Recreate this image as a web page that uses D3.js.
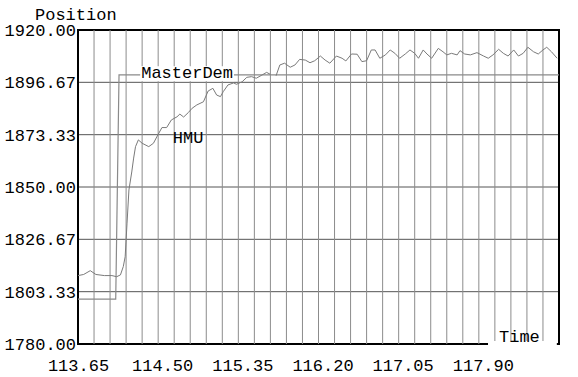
<!DOCTYPE html>
<html>
<head>
<meta charset="utf-8">
<script src="https://cdn.jsdelivr.net/npm/d3@7"></script>
<style>
  body { margin: 0; background: #fff; }
  text { font-family: "Liberation Mono", monospace; font-size: 17px; fill: #000; }
</style>
</head>
<body>
<div id="chart-area"></div>
<script>
const timeTicks = [113.65, 114.50, 115.35, 116.20, 117.05, 117.90];
const posTicks = [1780, 1803.33, 1826.67, 1850, 1873.33, 1896.67, 1920];

// MasterDem (demand step)
const demTime = [113.65, 114.05, 114.085, 118.75];
const demPos = [1800, 1800, 1900, 1900];

// HMU response, null = gap in the trace
const hmuTime = [
  113.65, 113.71, 113.78, 113.84, 113.93, 114.01, 114.06, 114.10, 114.13, 114.15,
  114.17, 114.19, 114.22, 114.24, 114.26, 114.29, 114.33, 114.40, 114.45, 114.49,
  114.54, 114.59, 114.64, 114.70, 114.73, 114.77, 114.82, 114.86, 114.91, 114.98,
  115.03, 115.08, 115.12, 115.16, 115.19, 115.24, 115.30, 115.33, 115.39, 115.44,
  115.49, 115.54, 115.60, 115.65, 115.69, 115.72, 115.75, 115.79, 115.84, 115.90,
  115.95, 116.00, 116.06, 116.11, 116.16, 116.22, 116.27, 116.32, 116.39, 116.45,
  116.49, 116.55, 116.61, 116.66, 116.71, 116.76, 116.80, 116.85, 116.91, 116.96,
  117.01, 117.06, 117.12, 117.17, 117.22, 117.26, 117.31, 117.35, 117.40, 117.47,
  117.52, 117.56, 117.61, 117.67, 117.70, 117.75, 117.81, 117.88, 117.95, 118.00,
  118.05, 118.11, 118.16, 118.21, 118.27, 118.32, 118.37, 118.42, 118.48, 118.53,
  118.58, 118.62, 118.67, 118.73
];
const hmuPos = [
  1810.5, 1811.0, 1812.7, 1811.0, 1810.5, 1810.5, 1810.0, 1810.8, 1814.5, 1818.9,
  1833.9, 1848.7, 1856.7, 1862.9, 1868.0, 1871.0, 1869.5, 1868.0, 1869.5, 1872.7,
  1876.5, 1876.5, 1879.9, 1881.3, 1882.5, 1881.2, 1883.2, 1885.1, 1886.6, 1888.0,
  1892.8, 1894.0, 1891.0, 1890.3, 1892.5, 1895.5, 1896.4, 1895.8, 1896.9, 1898.9,
  1899.2, 1898.5, 1899.9, 1901.1, 1900.2, null, 1899.6, 1904.4, 1905.2, 1903.4,
  1904.4, 1906.9, 1906.6, 1905.4, 1906.3, 1908.4, 1906.6, 1905.2, 1908.4, 1907.4,
  1906.2, 1909.3, 1909.2, 1905.9, 1906.3, 1911.1, 1911.1, 1907.4, 1908.9, 1911.1,
  1909.6, 1907.4, 1909.3, 1911.1, 1909.6, 1907.4, 1911.1, 1909.3, 1907.4, 1911.8,
  1910.3, 1908.9, 1909.6, 1908.9, 1910.8, 1909.3, 1908.9, 1909.9, 1908.4, 1907.4,
  1908.9, 1911.4, 1909.6, 1908.4, 1911.1, 1908.4, 1909.6, 1912.3, 1910.3, 1909.3,
  1911.1, 1912.3, 1910.3, 1907.4
];

// text annotations (anchor = baseline start)
const labelNames = ["MasterDem", "HMU", "Time"];
const labelTime = [114.32, 114.655, 118.114];
const labelPos = [1898.5, 1869.7, 1781.0];

const chart = { width: 578, height: 377 };
const margin = { top: 30, right: 19, left: 78, bottom: 33 };
const width = chart.width - margin.left - margin.right;
const height = chart.height - margin.top - margin.bottom;

const x = d3.scaleLinear().domain([113.65, 118.75]).range([0, width]);
const y = d3.scaleLinear().domain([1780, 1920]).range([height, 0]);

const svg = d3.select("#chart-area").append("svg")
  .attr("width", chart.width)
  .attr("height", chart.height);

const g = svg.append("g")
  .attr("transform", `translate(${margin.left}, ${margin.top})`);

// horizontal grid
g.append("g").selectAll("line")
  .data(posTicks.slice(1, -1))
  .enter().append("line")
  .attr("x1", 0).attr("x2", width)
  .attr("y1", d => y(d)).attr("y2", d => y(d))
  .attr("stroke", "#555").attr("stroke-width", 1);

// frame
g.append("rect")
  .attr("width", width).attr("height", height)
  .attr("fill", "none").attr("stroke", "#000").attr("stroke-width", 2);

// labels inside plot
const labels = g.append("g");
labelNames.forEach((name, i) => {
  const t = labels.append("text")
    .text(name)
    .attr("x", x(labelTime[i]))
    .attr("y", y(labelPos[i]));
  const b = t.node().getBBox();
  if (name === "MasterDem") {
    labels.insert("rect", "text")
      .attr("x", b.x - 1).attr("y", b.y + 2)
      .attr("width", b.width + 2).attr("height", b.height - 4)
      .attr("fill", "#fff");
  }
  if (name === "Time") {
    labels.insert("rect", "text")
      .attr("x", b.x - 11).attr("y", height - 3)
      .attr("width", b.width + 28).attr("height", 6)
      .attr("fill", "#fff");
  }
});

// vertical grid
const gridTimes = d3.range(1, 30).map(i => 113.65 + i * 0.17);
g.append("g").selectAll("line")
  .data(gridTimes)
  .enter().append("line")
  .attr("x1", d => x(d)).attr("x2", d => x(d))
  .attr("y1", 0).attr("y2", height)
  .attr("stroke", "#8c8c8c").attr("stroke-width", 1);

// series
const dem = demTime.map((t, i) => ({ t, v: demPos[i] }));
const hmu = hmuTime.map((t, i) => ({ t, v: hmuPos[i] }));

const line = d3.line()
  .defined(d => d.v !== null)
  .x(d => x(d.t))
  .y(d => y(d.v));

const series = g.append("g");
series.append("path").datum(dem)
  .attr("d", line).attr("fill", "none")
  .attr("stroke", "#8a8a8a").attr("stroke-width", 1.2);
series.append("path").datum(hmu)
  .attr("d", line).attr("fill", "none")
  .attr("stroke", "#7a7a7a").attr("stroke-width", 1);

// bring annotation text above lines
g.node().appendChild(labels.node());

// axes
const yAxis = d3.axisLeft(y)
  .tickValues(posTicks)
  .tickFormat(d => d.toFixed(2))
  .tickSize(0)
  .tickPadding(2);
const xAxis = d3.axisBottom(x)
  .tickValues(timeTicks)
  .tickFormat(d => d.toFixed(2))
  .tickSize(0)
  .tickPadding(15);

g.append("g").attr("class", "y-axis").call(yAxis);
g.append("g").attr("class", "x-axis")
  .attr("transform", `translate(0, ${height})`)
  .call(xAxis);

g.selectAll(".y-axis path, .x-axis path").remove();
g.selectAll(".y-axis text, .x-axis text")
  .attr("font-family", null).attr("font-size", null).attr("fill", "#000");
g.selectAll(".x-axis text").attr("dx", (d, i) => i === 0 ? 0 : 4);

g.append("text")
  .text("Position")
  .attr("x", -43)
  .attr("y", -10);
</script>
</body>
</html>
